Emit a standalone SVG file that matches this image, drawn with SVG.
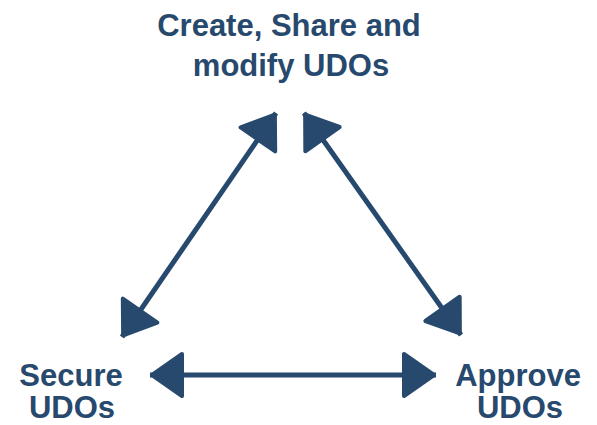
<svg xmlns="http://www.w3.org/2000/svg" width="597" height="425" viewBox="0 0 597 425">
<style>
.lbl{font-family:"Liberation Sans",Arial,sans-serif;font-weight:bold;font-size:31px;fill:#27496d;text-anchor:middle}
.conn{stroke:#27496d;stroke-width:5;fill:none}
</style>
<defs>
<marker id="ah" markerUnits="userSpaceOnUse" viewBox="-40 -30 50 60" refX="0" refY="0" markerWidth="50" markerHeight="60" orient="auto-start-reverse" overflow="visible">
<path d="M-2,0 L-32,-21 L-32,21 Z" fill="#27496d" stroke="#27496d" stroke-width="4" stroke-linejoin="round"/>
</marker>
</defs>
<g id="connectors">
<line class="conn" x1="122" y1="337" x2="276" y2="113" marker-start="url(#ah)" marker-end="url(#ah)"/>
<line class="conn" x1="304" y1="113" x2="461" y2="335" marker-start="url(#ah)" marker-end="url(#ah)"/>
<line class="conn" x1="150" y1="375" x2="436" y2="375" marker-start="url(#ah)" marker-end="url(#ah)"/>
</g>
<g id="create">
<text class="lbl" x="289" y="36">Create, Share and</text>
<text class="lbl" x="291" y="76">modify UDOs</text>
</g>
<g id="secure">
<text class="lbl" x="71" y="386">Secure</text>
<text class="lbl" x="72" y="418">UDOs</text>
</g>
<g id="approve">
<text class="lbl" x="518" y="386">Approve</text>
<text class="lbl" x="520" y="418">UDOs</text>
</g>
</svg>
